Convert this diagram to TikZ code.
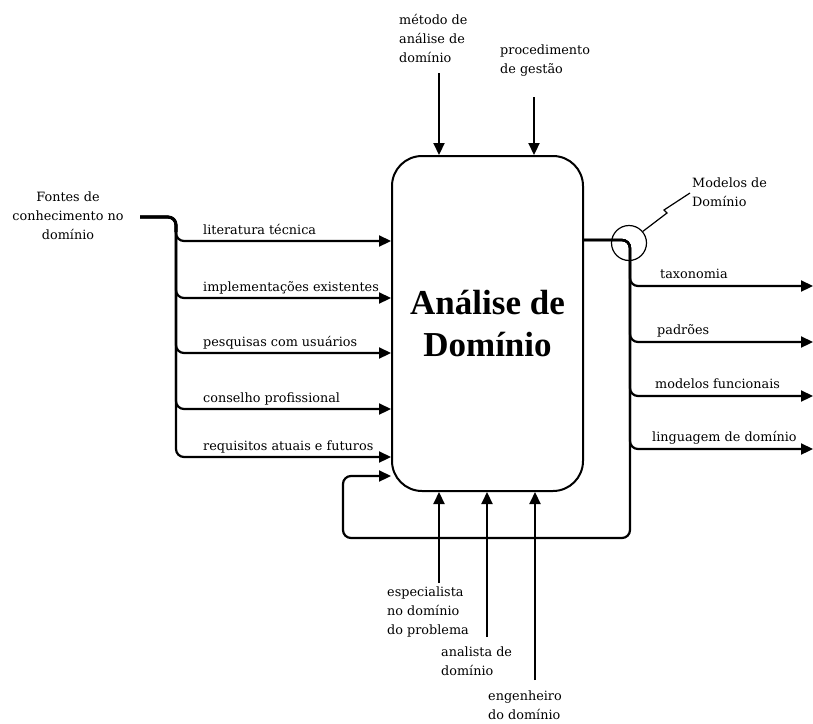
\documentclass[tikz,border=0pt]{standalone}
\usepackage{fontspec}
\setmainfont{DejaVu Serif}
\newfontfamily\headfont{Liberation Serif}
\usetikzlibrary{arrows.meta}
\newcommand{\lblfont}{\fontsize{12.8}{19}\selectfont}
\tikzset{
  flow/.style={line width=2.2pt, rounded corners=8pt},
  tip/.style={-{Triangle[length=12pt,width=11pt]}},
  lbl/.style={font=\lblfont, inner sep=0pt, align=left},
  procbox/.style={draw, line width=2pt, rounded corners=30pt,
    minimum width=191pt, minimum height=335pt, align=center,
    font=\headfont\bfseries\fontsize{35}{42}\selectfont},
}
\begin{document}
\begin{tikzpicture}[x=1pt,y=-1pt]
\useasboundingbox (0,0) rectangle (813,723);

% central activity
\node[procbox] (ada) at (487.5,323.5) {Análise de\\Domínio};

% controls from above
\node[lbl, anchor=north west] (metodo) at (399,14) {método de\\análise de\\domínio};
\node[lbl, anchor=north west] (proc) at (500,45) {procedimento\\de gestão};
\coordinate (c1) at (439,73);
\coordinate (c2) at (534,97);
\draw[flow, tip] (c1) -- (ada.north -| c1);
\draw[flow, tip] (c2) -- (ada.north -| c2);

% knowledge sources on the left
\node[lbl, anchor=north, align=center] (fontes) at (68,192) {Fontes de\\conhecimento no\\domínio};
\coordinate (fsrc) at (140,217);
\coordinate (fbend) at (176,232);
\draw[line width=3.2pt, rounded corners=8pt] (fsrc) -| (fbend);
\foreach \y/\n/\t in {241/1/literatura técnica,
                      298/2/implementações existentes,
                      353/3/pesquisas com usuários,
                      409/4/conselho profissional,
                      457/5/requisitos atuais e futuros} {
  \coordinate (in\n) at (176,\y);
  \draw[flow, tip] (fsrc) -| (in\n) -- (ada.west |- in\n);
  \node[lbl, anchor=base west] (inlbl\n) at (203,\y-7) {\t};
}

% outputs on the right
\coordinate (oj) at (630,240);
\draw[line width=2.8pt] (ada.east |- oj) -- ([xshift=-8pt]oj);
\foreach \y/\n/\x/\t in {286/1/660/taxonomia,
                         342/2/657/padrões,
                         396/3/655/modelos funcionais,
                         449/4/652/linguagem de domínio} {
  \coordinate (out\n) at (813,\y);
  \draw[flow, tip] (ada.east |- oj) -- (oj) |- (out\n);
  \node[lbl, anchor=base west] (outlbl\n) at (\x,\y-8) {\t};
}

% feedback loop back into the activity
\coordinate (fbb) at (630,538);
\coordinate (fbl) at (343,538);
\coordinate (fbt) at (343,476);
\draw[flow, tip] (ada.east |- oj) -- (oj) -- (fbb) -- (fbl) -- (fbt) -- (ada.west |- fbt);

% call-out for the domain models
\node[draw, circle, line width=1.2pt, minimum size=35pt, inner sep=0pt] (mark) at (629,243) {};
\node[lbl, anchor=north west] (modelos) at (692,178) {Modelos de\\Domínio};
\draw[line width=1.2pt] (mark.40) -- (667,213) -- (664,210) -- (690,193);

% mechanisms from below
\coordinate (b1) at (439,583);
\coordinate (b2) at (487,637);
\coordinate (b3) at (535,680);
\draw[flow, tip] (b1) -- (ada.south -| b1);
\draw[flow, tip] (b2) -- (ada.south -| b2);
\draw[flow, tip] (b3) -- (ada.south -| b3);
\node[lbl, anchor=north west] (espec) at (387,587) {especialista\\no domínio\\do problema};
\node[lbl, anchor=north west] (anal) at (441,647) {analista de\\domínio};
\node[lbl, anchor=north west] (eng) at (488,691) {engenheiro\\do domínio};
\end{tikzpicture}
\end{document}
